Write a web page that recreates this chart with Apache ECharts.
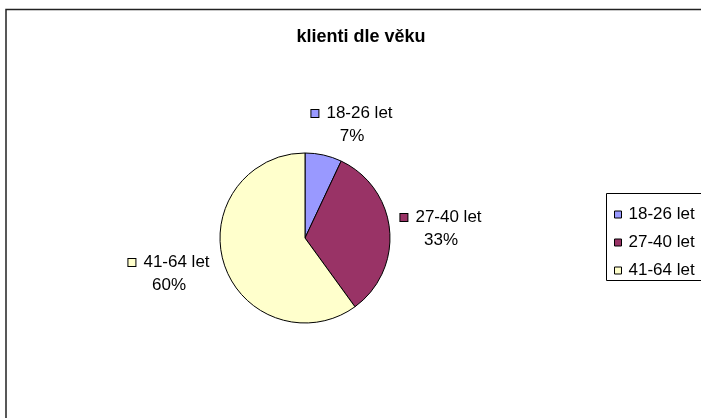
<!DOCTYPE html>
<html><head><meta charset="utf-8">
<script src="https://cdn.jsdelivr.net/npm/echarts@6/dist/echarts.min.js"></script>
<style>html,body{margin:0;padding:0;background:#fff;overflow:hidden}#c{width:701px;height:418px}</style>
</head><body><div id="c"></div>
<script>
const titleText = 'klienti dle věku';
const categories = ['18-26 let', '27-40 let', '41-64 let'];
const values = [7, 33, 60];
const colors = ['#9999FF', '#993366', '#FFFFCC'];

const FONT = 'Liberation Sans, Arial, sans-serif';
const labelPos = [[352, 125], [441, 229], [169, 274]];

const chart = echarts.init(document.getElementById('c'), null, {renderer: 'canvas'});
const data = categories.map((n, i) => ({
  name: n,
  value: values[i],
  itemStyle: {color: colors[i]},
  label: {rich: {ic: {width: 7, height: 7, backgroundColor: colors[i], borderColor: '#000', borderWidth: 1}}}
}));

chart.setOption({
  animation: false,
  backgroundColor: '#fff',
  title: {
    text: titleText, left: 356, top: 23, textAlign: 'center',
    textStyle: {fontFamily: FONT, fontSize: 18, fontWeight: 'bold', color: '#000'}
  },
  graphic: [
    {type: 'polyline', shape: {points: [[6, 900], [6, 9.5], [1500, 9.5]]}, style: {fill: null, stroke: '#222', lineWidth: 1.5}, silent: true},
    {type: 'rect', shape: {x: 606.5, y: 193.5, width: 300, height: 87}, style: {fill: '#fff', stroke: null}, silent: true, z: 0},
    {type: 'polyline', shape: {points: [[1000, 193.5], [606.5, 193.5], [606.5, 280.5], [1000, 280.5]]}, style: {fill: null, stroke: '#000', lineWidth: 1}, silent: true, z: 1}
  ],
  legend: {
    orient: 'vertical', left: 609, top: 201, z: 5,
    itemWidth: 7, itemHeight: 7, itemGap: 11,
    icon: 'rect',
    itemStyle: {borderColor: '#000', borderWidth: 1},
    textStyle: {fontFamily: FONT, fontSize: 17, color: '#000', lineHeight: 17, padding: [0, 0, 0, 2]},
    data: categories
  },
  series: [{
    type: 'pie',
    center: [305, 238],
    radius: 85,
    startAngle: 90,
    clockwise: true,
    avoidLabelOverlap: false,
    itemStyle: {borderColor: '#000', borderWidth: 1},
    emphasis: {disabled: true},
    labelLine: {show: false},
    label: {
      show: true, position: 'outside',
      formatter: p => '{ic|}{g|}{t|' + p.name + '}\n{t|' + Math.round(p.percent) + '%}',
      rich: {
        g: {width: 8},
        t: {fontFamily: FONT, fontSize: 17, color: '#000', lineHeight: 23}
      }
    },
    labelLayout: p => ({x: labelPos[p.dataIndex][0], y: labelPos[p.dataIndex][1], align: 'center', verticalAlign: 'middle'}),
    data: data
  }]
});
</script></body></html>
